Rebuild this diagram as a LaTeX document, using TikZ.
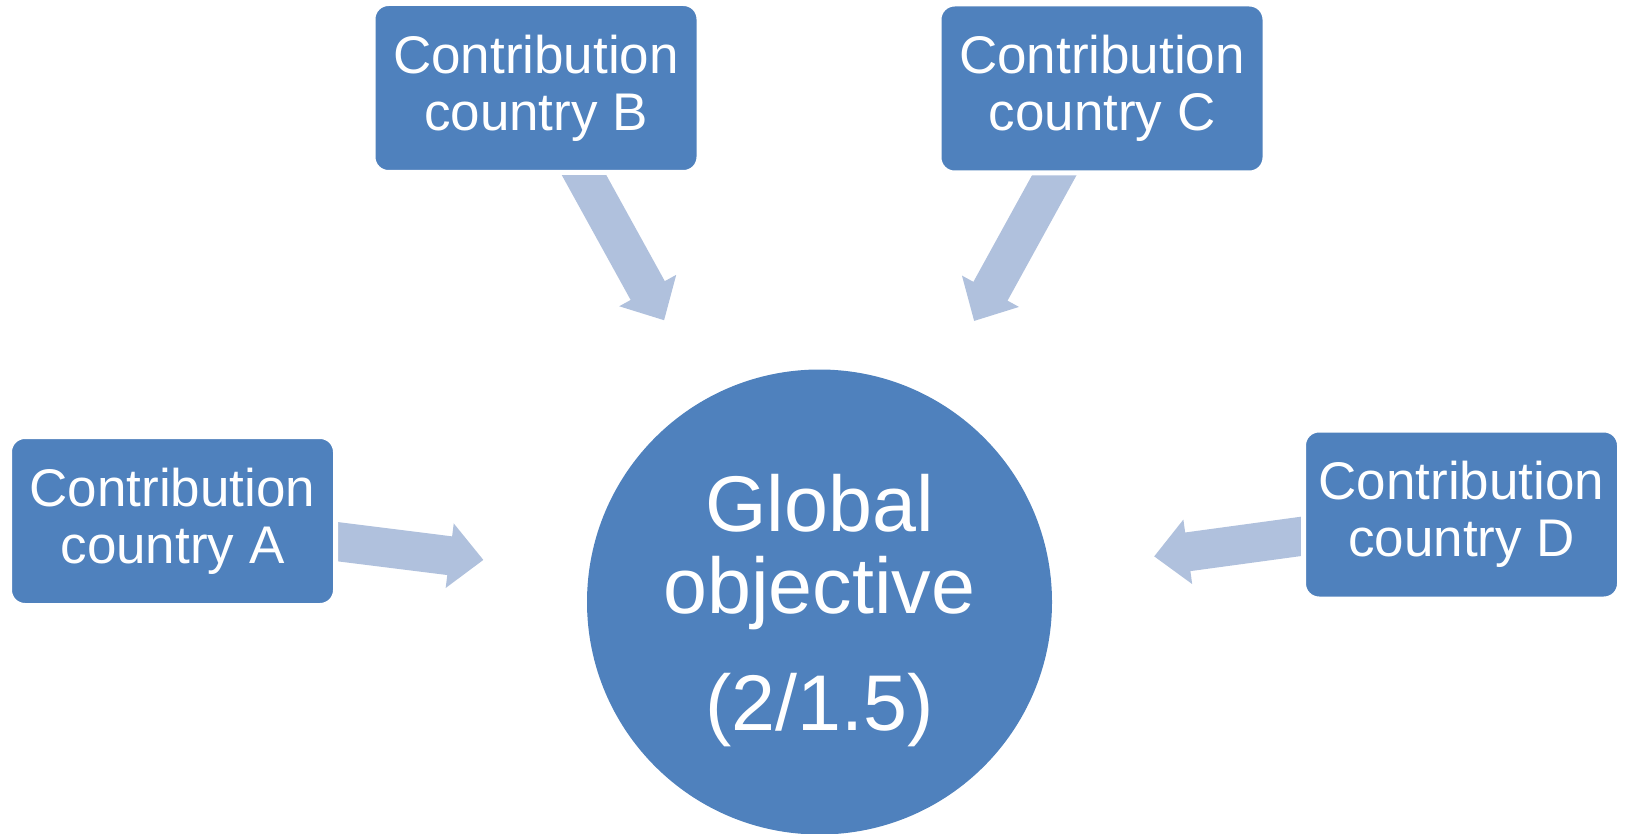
\documentclass[tikz,border=0pt]{standalone}
\usepackage{fontspec}
\setmainfont{Liberation Sans}
\usetikzlibrary{arrows.meta, calc}
\pgfdeclarelayer{background}
\pgfsetlayers{background,main}
\definecolor{boxblue}{RGB}{79,129,189}
\definecolor{arrowblue}{RGB}{176,193,221}

\begin{document}
\begin{tikzpicture}[x=1pt, y=-1pt,
        country/.style={rectangle, rounded corners=15.5pt, fill=boxblue, draw=white, line width=5pt,
            text=white, align=center, inner sep=0pt, minimum width=326pt, minimum height=169pt,
            font=\fontsize{53}{57}\selectfont},
        goal/.style={circle, fill=boxblue, text=white, align=center, inner sep=0pt, text depth=0pt,
            minimum size=465pt, font=\fontsize{79}{82}\selectfont},
        fatarrow/.style={draw=arrowblue, line width=39pt, -{Triangle[width=63pt, length=34pt]}}]
        \useasboundingbox (0,0) rectangle (1639,834);

        \node[goal] (G) at (819.5,602) {Global\\objective\\[35pt](2/1.5)};

        \node[country] (A) at (172.5,521) {Contribution\\country A};
        \node[country] (B) at (536,88) {Contribution\\country B};
        \node[country] (C) at (1102,88.5) {Contribution\\country C};
        \node[country, minimum width=316pt] (D) at (1461.5,514.5) {Contribution\\country D};

        % arrows sit behind the boxes, the white rim cuts their tails
        \begin{pgfonlayer}{background}
            \draw[fatarrow, shorten >=106pt] (A.center) -- (G);
            \draw[fatarrow, shorten >=89pt] (B.center) -- (G);
            \draw[fatarrow, shorten >=88pt] (C.center) -- (G);
            \draw[fatarrow, shorten >=105pt] (D.center) -- (G);
        \end{pgfonlayer}

    \end{tikzpicture}
\end{document}
